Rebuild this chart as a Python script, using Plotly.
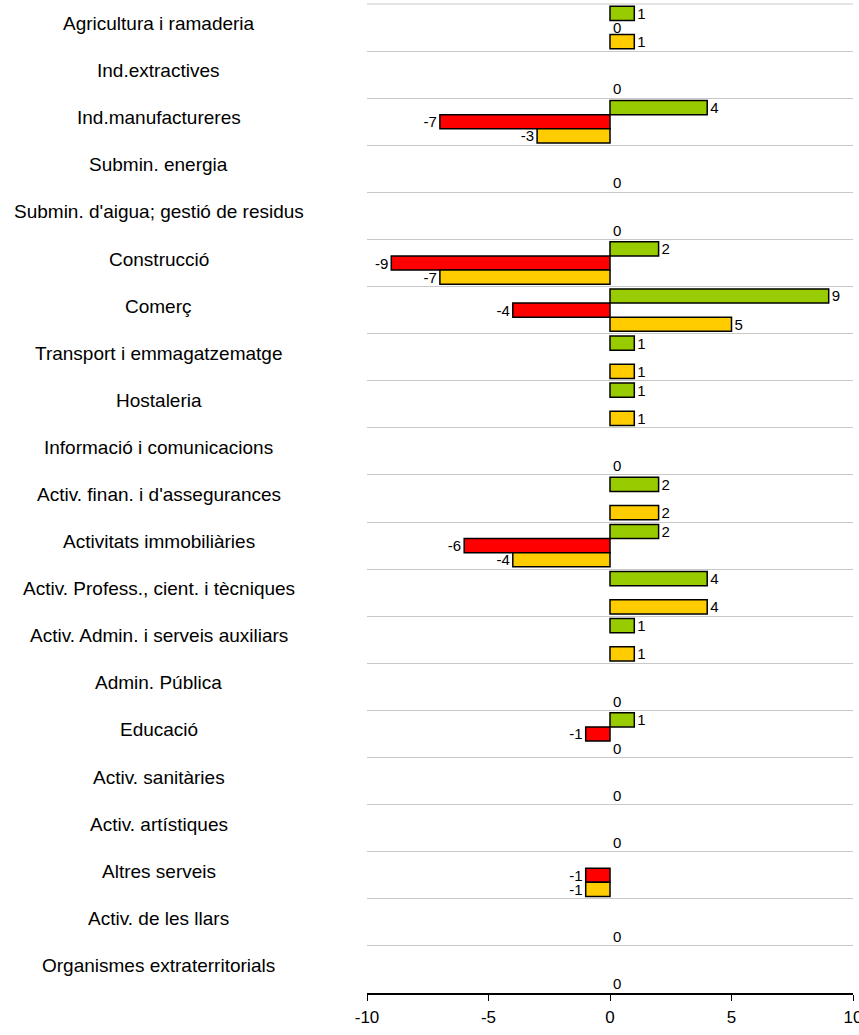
import plotly.graph_objects as go

categories = [
    "Agricultura i ramaderia",
    "Ind.extractives",
    "Ind.manufactureres",
    "Submin. energia",
    "Submin. d'aigua; gestió de residus",
    "Construcció",
    "Comerç",
    "Transport i emmagatzematge",
    "Hostaleria",
    "Informació i comunicacions",
    "Activ. finan. i d'assegurances",
    "Activitats immobiliàries",
    "Activ. Profess., cient. i tècniques",
    "Activ. Admin. i serveis auxiliars",
    "Admin. Pública",
    "Educació",
    "Activ. sanitàries",
    "Activ. artístiques",
    "Altres serveis",
    "Activ. de les llars",
    "Organismes extraterritorials",
]

green = [1, None, 4, None, None, 2, 9, 1, 1, None, 2, 2, 4, 1, None, 1, None, None, None, None, None]
red = [0, None, -7, None, None, -9, -4, None, None, None, None, -6, None, None, None, -1, None, None, -1, None, None]
yellow = [1, 0, -3, 0, 0, -7, 5, 1, 1, 0, 2, -4, 4, 1, 0, 0, 0, 0, -1, 0, 0]

x_ticks = [-10, -5, 0, 5, 10]

FONT = "Liberation Sans, Arial, Helvetica, sans-serif"

series = [
    (green, "#99CC00"),
    (red, "#FF0000"),
    (yellow, "#FFCC00"),
]

fig = go.Figure()
for vals, col in series:
    fig.add_trace(go.Bar(
        y=categories,
        x=vals,
        orientation="h",
        marker=dict(
            color=col,
            line=dict(color="black",
                      width=[0 if (v is None or v == 0) else 1.5 for v in vals]),
        ),
        text=["" if v is None else str(v) for v in vals],
        textposition="outside",
        textfont=dict(family=FONT, size=15, color="black"),
        constraintext="none",
        cliponaxis=False,
        showlegend=False,
        hoverinfo="skip",
    ))

for c in categories:
    fig.add_annotation(
        x=-0.428, xref="paper", y=c, yref="y",
        text=c, showarrow=False, xanchor="center", yanchor="middle",
        yshift=4,
        font=dict(family=FONT, size=19, color="black"),
    )

# top border grid line of the first category band
fig.add_shape(type="line", xref="paper", yref="paper", x0=0, x1=1, y0=1, y1=1,
              line=dict(color="#C8C8C8", width=1), layer="below")

fig.update_layout(
    width=859, height=1035,
    margin=dict(l=367, r=6, t=4, b=42, autoexpand=False),
    paper_bgcolor="white", plot_bgcolor="white",
    barmode="group", bargap=0.1, bargroupgap=0,
    font=dict(family=FONT, color="black"),
)
fig.update_yaxes(
    type="category", categoryorder="array", categoryarray=categories,
    autorange="reversed", tickson="boundaries",
    showgrid=True, gridcolor="#C8C8C8", gridwidth=1,
    showticklabels=False, ticks="", zeroline=False, showline=False,
    automargin=False,
)
fig.update_xaxes(
    range=[-10, 10], tickvals=x_ticks, ticktext=[str(t) for t in x_ticks],
    showgrid=False, zeroline=False,
    showline=True, linecolor="black", linewidth=1.5,
    ticks="outside", ticklen=6, tickcolor="black", tickwidth=1,
    tickfont=dict(family=FONT, size=17, color="black"),
    ticklabelstandoff=2, ticklabeloverflow="allow",
    automargin=False,
)

fig.write_html(
    "out.html",
    config={"displayModeBar": False},
    post_script="document.body.style.margin='0';document.body.style.overflow='hidden';",
)
